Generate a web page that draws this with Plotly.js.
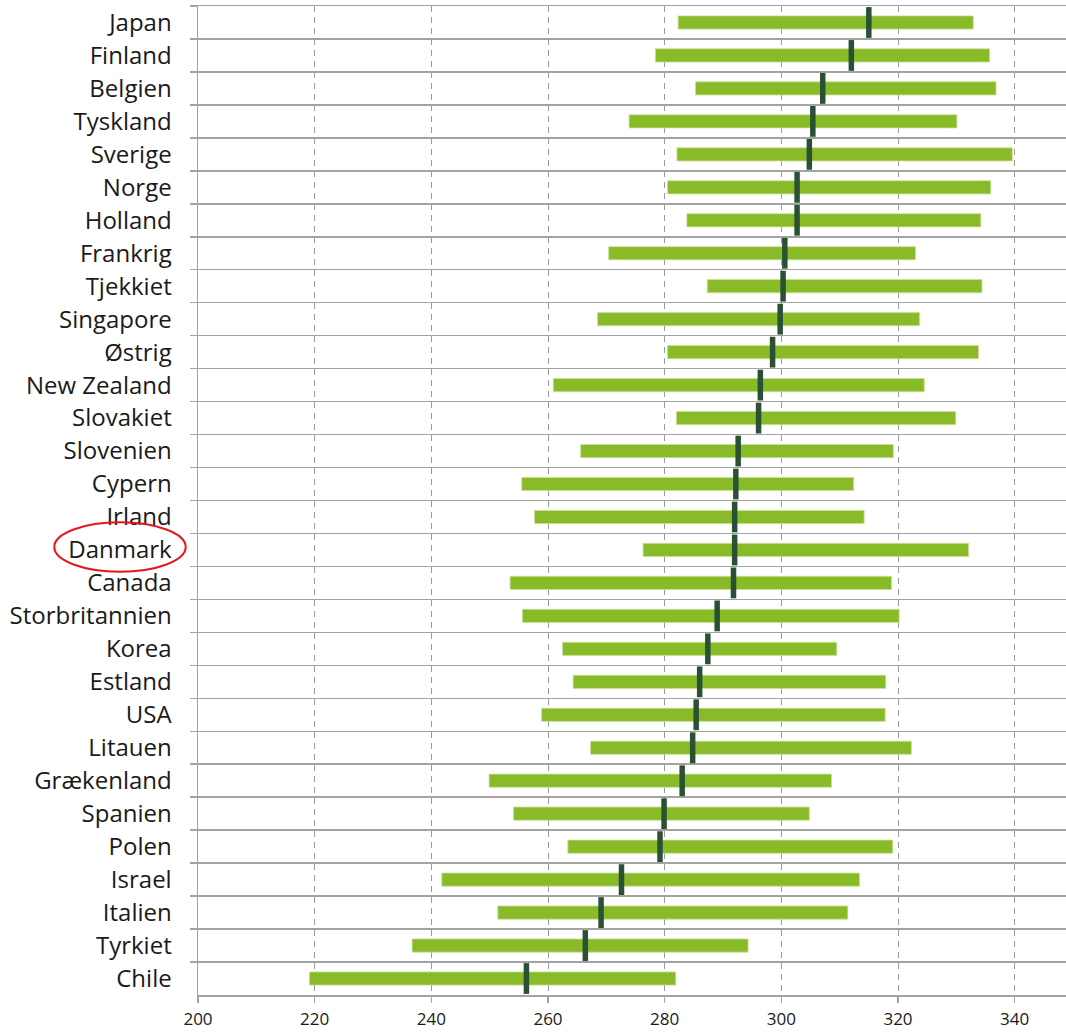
<!DOCTYPE html>
<html>
<head>
<meta charset="utf-8">
<script src="https://cdn.plot.ly/plotly-3.0.1.min.js"></script>
<style>
  html, body { margin: 0; padding: 0; background: #ffffff; }
  #chart { width: 1066px; height: 1034px; }
</style>
</head>
<body>
<div id="chart"></div>
<script>
const countries = ["Japan","Finland","Belgien","Tyskland","Sverige","Norge","Holland","Frankrig","Tjekkiet","Singapore","Østrig","New Zealand","Slovakiet","Slovenien","Cypern","Irland","Danmark","Canada","Storbritannien","Korea","Estland","USA","Litauen","Grækenland","Spanien","Polen","Israel","Italien","Tyrkiet","Chile"];
const lowValues  = [282.3,278.4,285.3,273.9,282.1,280.5,283.8,270.4,287.3,268.5,280.5,260.9,282.0,265.6,255.5,257.7,276.3,253.5,255.6,262.5,264.3,258.9,267.3,249.9,254.1,263.4,241.8,251.4,236.7,219.1];
const highValues = [332.9,335.7,336.8,330.1,339.6,335.9,334.2,323.0,334.4,323.7,333.8,324.5,329.9,319.2,312.4,314.2,332.1,318.9,320.2,309.5,317.9,317.8,322.3,308.6,304.8,319.1,313.4,311.4,294.3,281.9];
const meanValues = [315.0,312.0,307.1,305.4,304.8,302.7,302.7,300.6,300.3,299.8,298.5,296.4,296.1,292.6,292.2,292.0,292.0,291.8,289.0,287.4,286.0,285.4,284.8,283.0,279.9,279.2,272.6,269.1,266.4,256.3];
const xTickValues = [200,220,240,260,280,300,320,340];

const rangeTrace = {
  type: 'bar',
  orientation: 'h',
  y: countries,
  base: lowValues,
  x: highValues.map((h, i) => h - lowValues[i]),
  width: 0.4,
  marker: { color: '#88bb27', line: { color: '#c9e29a', width: 0.8 } },
  hoverinfo: 'skip',
  showlegend: false
};

const meanTrace = {
  type: 'scatter',
  mode: 'markers',
  y: countries,
  x: meanValues,
  marker: { symbol: 'line-ns', size: 22, line: { color: '#2b5135', width: 5.5 } },
  hoverinfo: 'skip',
  showlegend: false
};

const gray = '#a3a3a3';

const layout = {
  width: 1066,
  height: 1034,
  margin: { l: 198, r: 0, t: 6, b: 39, pad: 0 },
  paper_bgcolor: '#ffffff',
  plot_bgcolor: '#ffffff',
  font: { family: '"Open Sans", sans-serif', color: '#1a1a1a' },
  xaxis: {
    range: [200, 348.8],
    tickvals: xTickValues,
    ticktext: xTickValues.map(String),
    showgrid: true,
    gridcolor: '#9a9a9a',
    gridwidth: 1,
    griddash: '6px,5px',
    zeroline: false,
    showline: true,
    linecolor: gray,
    linewidth: 1.5,
    mirror: true,
    ticks: 'outside',
    ticklen: 6,
    tickcolor: gray,
    tickwidth: 1.5,
    ticklabelstandoff: 2,
    tickfont: { size: 17, color: '#1a1a1a' },
    fixedrange: true
  },
  yaxis: {
    type: 'category',
    categoryorder: 'array',
    categoryarray: countries,
    range: [29.5, -0.5],
    tickson: 'boundaries',
    showgrid: true,
    gridcolor: gray,
    gridwidth: 1.5,
    showline: true,
    linecolor: gray,
    linewidth: 1.5,
    ticks: 'outside',
    ticklen: 7,
    tickcolor: gray,
    tickwidth: 1.5,
    ticklabelstandoff: 20,
    tickfont: { size: 24, color: '#1a1a1a' },
    zeroline: false,
    fixedrange: true
  },
  shapes: [
    {
      type: 'circle',
      xref: 'paper', yref: 'paper',
      x0: (54.3 - 198) / 868, x1: (185.7 - 198) / 868,
      y0: 1 - (571.7 - 6) / 989, y1: 1 - (522.3 - 6) / 989,
      line: { color: '#e8141b', width: 2 },
      fillcolor: 'rgba(0,0,0,0)'
    }
  ],
  bargap: 0.6
};

Plotly.newPlot('chart', [rangeTrace, meanTrace], layout, { displayModeBar: false, staticPlot: true });
</script>
</body>
</html>
